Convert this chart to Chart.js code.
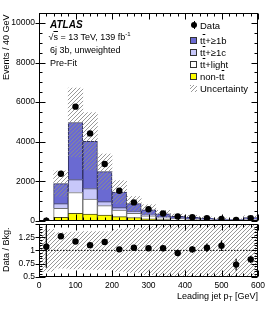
<!DOCTYPE html>
<html><head><meta charset="utf-8">
<script src="https://cdn.jsdelivr.net/npm/chart.js@4.4.0/dist/chart.umd.min.js"></script>
<style>
html,body{margin:0;padding:0;background:#fff;}
body{width:274px;height:309px;position:relative;overflow:hidden;font-family:"Liberation Sans",Arial,Helvetica,sans-serif;color:#000;}
canvas{position:absolute;left:0;}
#main{top:0;}
#ratio{top:215px;}
.t{position:absolute;white-space:nowrap;line-height:1;}
.ann{font-size:9px;left:50px;}
.leg{font-size:9.5px;left:200px;}
.sw{position:absolute;left:190px;width:7px;height:7px;box-sizing:border-box;border:1px solid #333;}
.ov{text-decoration:overline;}
.rot{transform-origin:0 0;transform:rotate(-90deg);font-size:9px;}
</style></head>
<body>
<canvas id="main" width="274" height="230"></canvas>
<canvas id="ratio" width="274" height="94"></canvas>

<div class="t ann" style="top:19.5px;font-weight:bold;font-style:italic;font-size:10px;">ATLAS</div>
<div class="t ann" style="top:32.5px;left:48.5px;">√<span class="ov">s</span> = 13 TeV, 139 fb<sup style="font-size:6px;vertical-align:4px;line-height:0">-1</sup></div>
<div class="t ann" style="top:45.5px;">6j 3b, unweighted</div>
<div class="t ann" style="top:58.5px;">Pre-Fit</div>

<div style="position:absolute;left:193.5px;top:21px;width:1px;height:8px;background:#000;"></div>
<div style="position:absolute;left:191px;top:22px;width:6px;height:6px;border-radius:50%;background:#000;"></div>
<div class="t leg" style="top:20.5px;">Data</div>
<div class="sw" style="top:36.5px;background:#6a6ad2;"></div>
<div class="t leg" style="top:35.5px;">t<span class="ov">t</span>+≥1b</div>
<div class="sw" style="top:48.8px;background:#c8c8fa;"></div>
<div class="t leg" style="top:47.8px;">t<span class="ov">t</span>+≥1c</div>
<div class="sw" style="top:60.8px;background:#fff;"></div>
<div class="t leg" style="top:59.8px;">t<span class="ov">t</span>+light</div>
<div class="sw" style="top:73.2px;background:#ffff00;"></div>
<div class="t leg" style="top:72.2px;">non-t<span class="ov">t</span></div>
<div class="sw" style="top:84.8px;border:none;background:repeating-linear-gradient(135deg,#999 0 0.8px,#fff 0.8px 2.6px);"></div>
<div class="t leg" style="top:83.8px;">Uncertainty</div>

<div class="t rot" style="left:2px;top:80px;">Events / 40 GeV</div>
<div class="t rot" style="left:2px;top:272px;">Data / Bkg.</div>
<div class="t" style="font-size:9px;right:16px;top:292px;">Leading jet p<sub style="font-size:6.5px;vertical-align:-2px;line-height:0">T</sub> [GeV]</div>

<script>
// ---- data ----
const binCenters = [20, 60, 100, 140, 180, 220, 260, 300, 340, 380, 420, 460, 500, 540, 580];
const dataVals   = [8, 2385, 5770, 4420, 2870, 1520, 935, 585, 370, 220, 185, 135, 100, 50, 135];
const dataErr    = [3, 49, 76, 66, 54, 39, 31, 24, 19, 15, 14, 12, 10, 7, 12];
const nonTT      = [1.5, 175, 385, 350, 300, 215, 170, 100, 65, 45, 35, 25, 18, 13, 32];
const ttLight    = [2, 460, 1050, 750, 470, 335, 215, 150, 95, 60, 45, 35, 25, 17, 40];
const tt1c       = [1, 235, 650, 535, 200, 120, 85, 60, 40, 25, 20, 15, 10, 8, 18];
const tt1b       = [3, 1015, 2885, 2385, 1515, 780, 400, 250, 155, 100, 80, 55, 39, 30, 73];
const uncRel     = [0.40, 0.34, 0.35, 0.36, 0.36, 0.40, 0.42, 0.46, 0.50, 0.52, 0.55, 0.55, 0.58, 0.60, 0.60];
const ratioVals  = [1.07, 1.27, 1.17, 1.10, 1.16, 1.02, 1.05, 1.04, 1.04, 0.95, 1.02, 1.05, 1.09, 0.73, 0.83];
const ratioErr   = [0.40, 0.03, 0.02, 0.02, 0.025, 0.03, 0.04, 0.045, 0.055, 0.06, 0.065, 0.08, 0.10, 0.11, 0.07];
const xTickLabels = [0, 100, 200, 300, 400, 500, 600];
const mainYTicks = [0, 2000, 4000, 6000, 8000, 10000];
const ratioYTicks = [0.5, 0.75, 1, 1.25];

const FONT = "'Liberation Sans', Arial, Helvetica, sans-serif";

function hatch() {
  const c = document.createElement('canvas'); c.width = 4; c.height = 4;
  const g = c.getContext('2d');
  g.strokeStyle = '#8c8c8c'; g.lineWidth = 0.9;
  g.beginPath();
  g.moveTo(0, 4); g.lineTo(4, 0);
  g.moveTo(-1, 1); g.lineTo(1, -1);
  g.moveTo(3, 5); g.lineTo(5, 3);
  g.stroke();
  return g.createPattern(c, 'repeat');
}
const pattern = hatch();

const total = binCenters.map((_, i) => nonTT[i] + ttLight[i] + tt1c[i] + tt1b[i]);
const pts = arr => arr.map((v, i) => ({x: binCenters[i], y: v}));

const framePlugin = {
  id: 'frame',
  afterDraw(chart, args, o) {
    const {ctx, chartArea: a, scales: {x, y}} = chart;
    ctx.save();
    ctx.strokeStyle = '#000'; ctx.lineWidth = 1;
    const L = Math.round(a.left) + 0.5, R = Math.round(a.right) - 0.5;
    const T = Math.round(a.top) + 0.5, B = Math.round(a.bottom) - 0.5;
    ctx.strokeRect(L, T, R - L, B - T);
    ctx.beginPath();
    const nx = Math.round((x.max - x.min) / o.xMinor);
    for (let k = 0; k <= nx; k++) {
      const v = x.min + k * o.xMinor;
      const p = Math.round(x.getPixelForValue(v)) + 0.5;
      const major = Math.abs(v / o.xMajor - Math.round(v / o.xMajor)) < 1e-6;
      const len = major ? o.xMajLen : o.xMinLen;
      ctx.moveTo(p, B); ctx.lineTo(p, B - len);
      ctx.moveTo(p, T); ctx.lineTo(p, T + len);
    }
    const ny = Math.round((y.max - y.min) / o.yMinor);
    for (let k = 0; k <= ny; k++) {
      const v = y.min + k * o.yMinor;
      const p = Math.round(y.getPixelForValue(v)) + 0.5;
      const major = Math.abs((v - o.yMajorBase) / o.yMajor - Math.round((v - o.yMajorBase) / o.yMajor)) < 1e-6;
      const len = major ? o.yMajLen : o.yMinLen;
      ctx.moveTo(L - (major ? 4 : 0), p); ctx.lineTo(L + len, p);
      ctx.moveTo(R, p); ctx.lineTo(R - len, p);
    }
    ctx.stroke();
    ctx.restore();
  }
};

const errPlugin = {
  id: 'errs',
  afterDatasetsDraw(chart, args, o) {
    const {ctx, chartArea: a, scales: {x, y}} = chart;
    ctx.save();
    ctx.beginPath(); ctx.rect(a.left, a.top, a.right - a.left, a.bottom - a.top); ctx.clip();
    ctx.strokeStyle = '#000'; ctx.lineWidth = 1.2;
    ctx.beginPath();
    o.values.forEach((v, i) => {
      const px = x.getPixelForValue(o.xs[i]);
      ctx.moveTo(px, y.getPixelForValue(v - o.errors[i]));
      ctx.lineTo(px, y.getPixelForValue(v + o.errors[i]));
    });
    ctx.stroke();
    ctx.restore();
  }
};

const barBorder = {top: 1, left: 1, right: 1, bottom: 0};

new Chart(document.getElementById('main'), {
  data: {
    datasets: [
      {type: 'line', label: 'Data', stack: 'data', data: pts(dataVals), showLine: false,
       pointRadius: 3.2, pointBackgroundColor: '#000', pointBorderWidth: 0},
      {type: 'bar', label: 'Uncertainty', stack: 'unc',
       data: binCenters.map((c, i) => ({x: c, y: [total[i] * (1 - uncRel[i]), total[i] * (1 + uncRel[i])]})),
       backgroundColor: pattern, borderWidth: 0},
      {type: 'bar', label: 'non-tt', stack: 'mc', data: pts(nonTT), backgroundColor: '#ffff00', borderColor: '#4d4d1a', borderWidth: barBorder},
      {type: 'bar', label: 'tt+light', stack: 'mc', data: pts(ttLight), backgroundColor: '#ffffff', borderColor: '#707070', borderWidth: barBorder},
      {type: 'bar', label: 'tt+>=1c', stack: 'mc', data: pts(tt1c), backgroundColor: '#c8c8fa', borderColor: '#2e2e5e', borderWidth: barBorder},
      {type: 'bar', label: 'tt+>=1b', stack: 'mc', data: pts(tt1b), backgroundColor: '#6a6ad2', borderColor: '#2e2e5e', borderWidth: barBorder}
    ]
  },
  options: {
    responsive: false, animation: false, devicePixelRatio: 1,
    layout: {padding: {left: 0, top: 13, right: 16, bottom: 0}},
    datasets: {bar: {grouped: false, barPercentage: 1, categoryPercentage: 1}},
    plugins: {legend: {display: false}, tooltip: {enabled: false},
      errs: {xs: binCenters, values: dataVals, errors: dataErr},
      frame: {xMajor: 100, xMinor: 20, xMajLen: 6, xMinLen: 3, yMajor: 2000, yMajorBase: 0, yMinor: 500, yMajLen: 6, yMinLen: 3}},
    scales: {
      x: {type: 'linear', offset: false, min: 0, max: 600, grid: {display: false, drawTicks: false, offset: false}, border: {display: false},
          ticks: {display: false}, afterFit: s => { s.height = 7.5; }},
      y: {type: 'linear', stacked: true, min: 0, max: 10500,
          grid: {display: false, drawTicks: false}, border: {display: false},
          afterBuildTicks: s => { s.ticks = mainYTicks.map(v => ({value: v})); },
          ticks: {color: '#000', padding: 4, font: {size: 8.5, family: FONT}, callback: v => String(v)},
          afterFit: s => { s.width = 39; }}
    }
  },
  plugins: [errPlugin, framePlugin]
});

new Chart(document.getElementById('ratio'), {
  data: {
    datasets: [
      {type: 'line', label: 'Ratio', data: pts(ratioVals), showLine: false,
       pointRadius: 3.2, pointBackgroundColor: '#000', pointBorderWidth: 0},
      {type: 'line', label: 'one', data: [{x: xTickLabels[0], y: 1}, {x: xTickLabels[xTickLabels.length - 1], y: 1}],
       borderColor: '#000', borderWidth: 1, borderDash: [1.5, 1.5], pointRadius: 0},
      {type: 'bar', label: 'Uncertainty', data: binCenters.map((c, i) => ({x: c, y: [1 - uncRel[i], 1 + uncRel[i]]})),
       backgroundColor: pattern, borderWidth: 0}
    ]
  },
  options: {
    responsive: false, animation: false, devicePixelRatio: 1,
    layout: {padding: {left: 0, top: 7.5, right: 16, bottom: 0}},
    datasets: {bar: {grouped: false, barPercentage: 1, categoryPercentage: 1}},
    plugins: {legend: {display: false}, tooltip: {enabled: false},
      errs: {xs: binCenters, values: ratioVals, errors: ratioErr},
      frame: {xMajor: 100, xMinor: 20, xMajLen: 6, xMinLen: 3, yMajor: 0.25, yMajorBase: 0, yMinor: 0.05, yMajLen: 6, yMinLen: 3}},
    scales: {
      x: {type: 'linear', offset: false, min: 0, max: 600, grid: {display: false, drawTicks: false, offset: false}, border: {display: false},
          afterBuildTicks: s => { s.ticks = xTickLabels.map(v => ({value: v})); },
          ticks: {color: '#000', padding: 4, maxRotation: 0, font: {size: 8.5, family: FONT}, callback: v => String(v)},
          afterFit: s => { s.height = 32.3; }},
      y: {type: 'linear', min: 0.5, max: 1.5,
          grid: {display: false, drawTicks: false}, border: {display: false},
          afterBuildTicks: s => { s.ticks = ratioYTicks.map(v => ({value: v})); },
          ticks: {color: '#000', padding: 4, font: {size: 8.5, family: FONT}, callback: v => String(v)},
          afterFit: s => { s.width = 39; }}
    }
  },
  plugins: [errPlugin, framePlugin]
});
</script>
</body></html>
